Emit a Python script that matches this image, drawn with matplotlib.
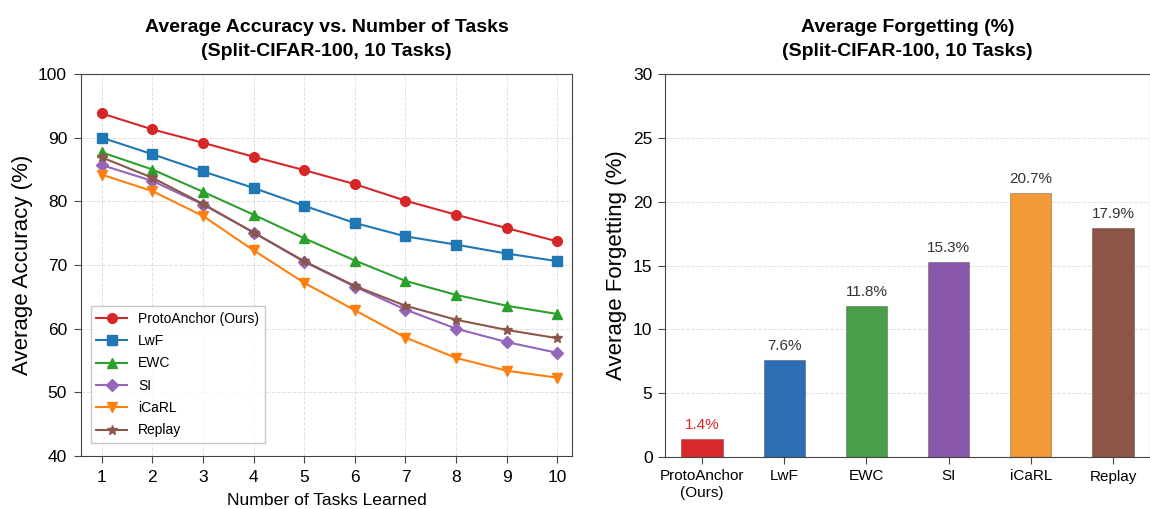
import matplotlib
matplotlib.use("Agg")
import matplotlib.pyplot as plt
import numpy as np

plt.rcParams['font.family'] = ['Liberation Sans', 'DejaVu Sans']

tasks = [1, 2, 3, 4, 5, 6, 7, 8, 9, 10]
methods = ["ProtoAnchor (Ours)", "LwF", "EWC", "SI", "iCaRL", "Replay"]
proto = [93.8, 91.3, 89.2, 87.0, 84.9, 82.7, 80.1, 77.9, 75.8, 73.7]
lwf = [90.0, 87.4, 84.7, 82.1, 79.3, 76.6, 74.5, 73.2, 71.8, 70.6]
ewc = [87.7, 85.0, 81.5, 77.9, 74.2, 70.7, 67.5, 65.3, 63.6, 62.3]
si = [85.7, 83.2, 79.5, 75.1, 70.5, 66.6, 63.0, 60.0, 57.9, 56.2]
icarl = [84.2, 81.6, 77.7, 72.3, 67.2, 62.9, 58.6, 55.4, 53.4, 52.3]
replay = [86.9, 83.7, 79.6, 75.1, 70.6, 66.7, 63.6, 61.4, 59.8, 58.5]

bar_labels = ["ProtoAnchor\n(Ours)", "LwF", "EWC", "SI", "iCaRL", "Replay"]
forgetting = [1.4, 7.6, 11.8, 15.3, 20.7, 17.9]

line_colors = ["#d62728", "#1f77b4", "#2ca02c", "#9467bd", "#ff7f0e", "#8c564b"]
bar_colors = ["#d8292b", "#2c6db4", "#4a9e4a", "#8a58aa", "#f29a38", "#8c5545"]
markers = ["o", "s", "^", "D", "v", "*"]

fig = plt.figure(figsize=(11.5, 5.09), dpi=100)
W, H = 1150, 509
ax1 = fig.add_axes([81 / W, 1 - 456 / H, (572 - 81) / W, (456 - 74) / H])
ax2 = fig.add_axes([665 / W, 1 - 457 / H, (1150 - 665) / W, (457 - 74) / H])

series = [proto, lwf, ewc, si, icarl, replay]
for name, vals, c, m in zip(methods, series, line_colors, markers):
    ms = 7 if m in ("o", "s") else (6 if m == "D" else 7.5)
    ax1.plot(tasks, vals, color=c, marker=m, markersize=ms, linewidth=1.5, label=name)

ax1.set_xlim(0.59, 10.29)
ax1.set_ylim(40, 100)
ax1.set_xticks(tasks)
ax1.set_yticks(np.arange(40, 101, 10))
ax1.tick_params(labelsize=12.5, length=5, pad=5, color="#444444")
ax1.set_xlabel("Number of Tasks Learned", fontsize=12.6, labelpad=6)
ax1.set_ylabel("Average Accuracy (%)", fontsize=16)
ax1.set_title("Average Accuracy vs. Number of Tasks\n(Split-CIFAR-100, 10 Tasks)",
              fontsize=14, fontweight="bold", pad=13, linespacing=1.55)
ax1.grid(True, linestyle="--", color="#cccccc", alpha=0.6, linewidth=0.7)
leg = ax1.legend(loc="lower left", fontsize=10, frameon=True, fancybox=False,
                 bbox_to_anchor=(0.02, 0.034), borderaxespad=0,
                 handlelength=2.2, labelspacing=0.6)
leg.get_frame().set_edgecolor("#bbbbbb")

x = np.arange(len(bar_labels))
ax2.bar(x, forgetting, width=0.5, color=bar_colors,
        edgecolor=(0, 0, 0, 0.25), linewidth=0.8)
for i, (xi, v) in enumerate(zip(x, forgetting)):
    ax2.text(xi, v + 0.55, f"{v}%", ha="center", va="bottom", fontsize=11,
             color=("#d62728" if i == 0 else "#333333"))
ax2.set_xlim(-0.45, 5.45)
ax2.set_ylim(0, 30)
ax2.set_xticks(x)
ax2.set_xticklabels(bar_labels, fontsize=11)
ax2.set_yticks(np.arange(0, 31, 5))
ax2.tick_params(axis="y", labelsize=12.5)
ax2.tick_params(length=5, pad=4, color="#444444")
ax2.set_ylabel("Average Forgetting (%)", fontsize=16)
ax2.set_title("Average Forgetting (%)\n(Split-CIFAR-100, 10 Tasks)",
              fontsize=14, fontweight="bold", pad=13, linespacing=1.55)
ax2.yaxis.grid(True, linestyle="--", color="#cccccc", alpha=0.6, linewidth=0.7)
ax2.set_axisbelow(True)

for ax in (ax1, ax2):
    for s in ax.spines.values():
        s.set_color("#444444")

fig.savefig("out.png", dpi=100, facecolor="white")
